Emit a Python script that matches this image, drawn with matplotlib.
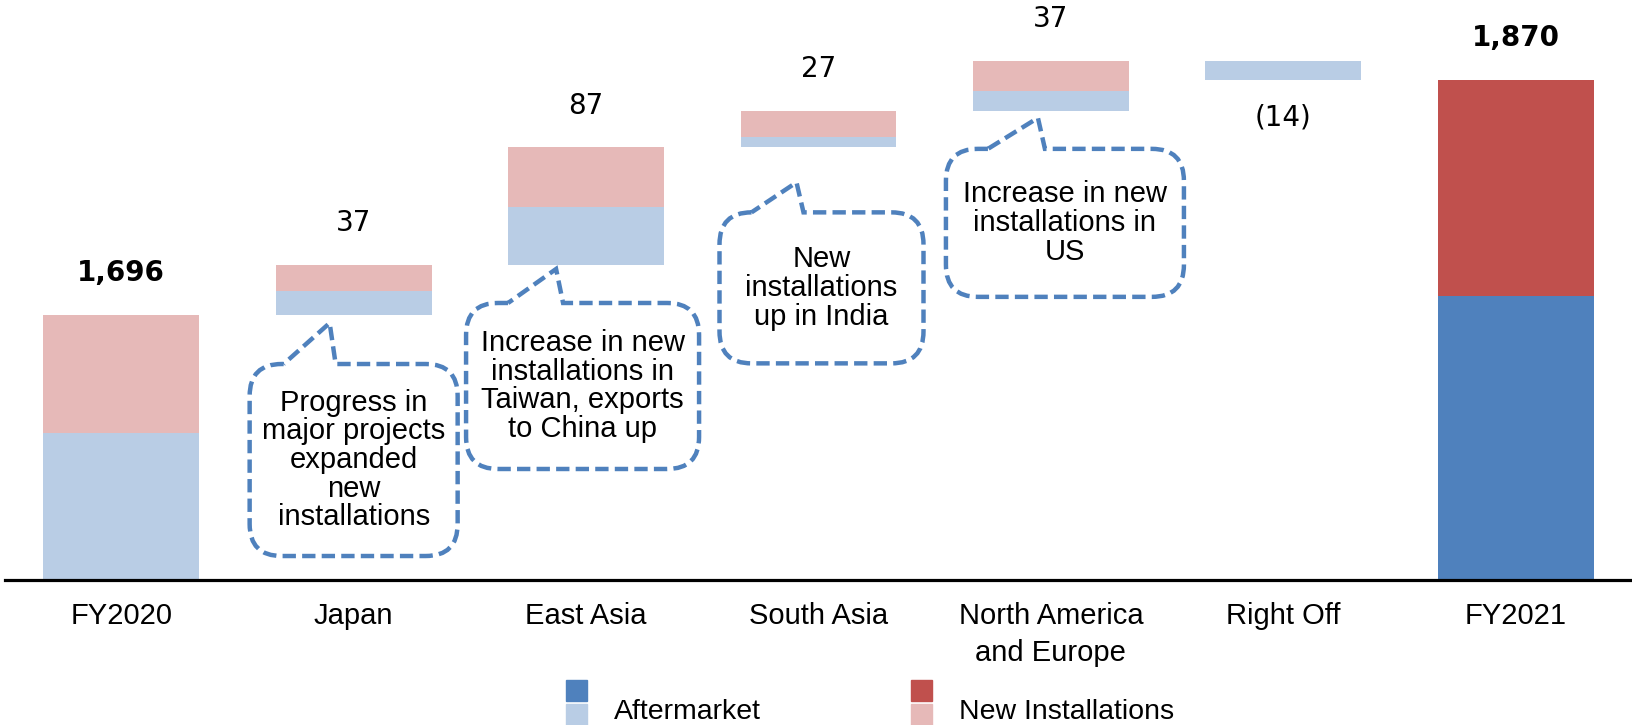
"""Sales bridge FY2020 -> FY2021 by region, drawn as a stacked waterfall."""

import matplotlib

matplotlib.use("Agg", force=True)

import matplotlib.pyplot as plt
from matplotlib.patches import PathPatch, Rectangle
from matplotlib.path import Path

W, H = 1633, 725

# ---- data -----------------------------------------------------------------
categories = ["FY2020", "Japan", "East Asia", "South Asia",
              "North America\nand Europe", "Right Off", "FY2021"]

start_total = 1696
start_aftermarket = 1609          # level where the aftermarket part ends
start_new = 87
end_total = 1870
end_aftermarket = 1710
end_new = 160

step_aftermarket = [18, 43, 8, 15, -14]
step_new = [19, 44, 19, 22, 0]
step_labels = ["37", "87", "27", "37", "(14)"]

callout_texts = [
    "Progress in\nmajor projects\nexpanded\nnew\ninstallations",
    "Increase in new\ninstallations in\nTaiwan, exports\nto China up",
    "New\ninstallations\nup in India",
    "Increase in new\ninstallations in\nUS",
]

# ---- style ----------------------------------------------------------------
LIGHT_BLUE = "#B9CDE5"
LIGHT_RED = "#E6B9B8"
DARK_BLUE = "#4F81BD"
DARK_RED = "#C0504D"
ARIAL = "Liberation Sans"
VERDANA = "DejaVu Sans"

fig = plt.figure(figsize=(W / 100, H / 100), dpi=100, facecolor="white")
ax = fig.add_axes([5 / W, 145 / H, 1627 / W, 580 / H])
ax.set_xlim(-0.5, 6.5)
ax.set_ylim(1500, 1929)

bw = 0.67

# start bar
ax.bar(0, start_aftermarket, bw, color=LIGHT_BLUE)
ax.bar(0, start_new, bw, bottom=start_aftermarket, color=LIGHT_RED)
ax.annotate(f"{start_total:,}", (0, start_total), xytext=(0, 30),
            textcoords="offset points", ha="center", va="center",
            fontsize=20, fontweight="bold", family=VERDANA)

# steps
running = start_total
bottoms = []
for i, (af, nw, lab) in enumerate(zip(step_aftermarket, step_new, step_labels)):
    x = i + 1
    delta = af + nw
    if delta >= 0:
        ax.bar(x, af, bw, bottom=running, color=LIGHT_BLUE)
        ax.bar(x, nw, bw, bottom=running + af, color=LIGHT_RED)
        bottoms.append(running)
        ax.annotate(lab, (x, running + delta), xytext=(0, 30),
                    textcoords="offset points", ha="center", va="center",
                    fontsize=20, family=VERDANA)
    else:
        ax.bar(x, -delta, bw, bottom=running + delta, color=LIGHT_BLUE)
        bottoms.append(running + delta)
        ax.annotate(lab, (x, running + delta), xytext=(0, -27),
                    textcoords="offset points", ha="center", va="center",
                    fontsize=20, family=VERDANA)
    running += delta

# end bar
ax.bar(6, end_aftermarket, bw, color=DARK_BLUE)
ax.bar(6, end_new, bw, bottom=end_aftermarket, color=DARK_RED)
ax.annotate(f"{end_total:,}", (6, end_total), xytext=(0, 30),
            textcoords="offset points", ha="center", va="center",
            fontsize=20, fontweight="bold", family=VERDANA)

for s in ("left", "right", "top"):
    ax.spines[s].set_visible(False)
ax.spines["bottom"].set_linewidth(2.3)
ax.spines["bottom"].set_color("black")
ax.set_yticks([])
ax.set_xticks(range(len(categories)), categories, fontsize=21, family=ARIAL)
ax.tick_params(axis="x", length=0, pad=16)
for t in ax.get_xticklabels():
    t.set_linespacing(1.4)


# ---- callouts (pixel offsets from the bar they point at) -------------------
def callout(i, y_bottom, text, tip_dx, tip_gap, box_l, box_r, box_gap,
            box_h, base_l, base_r, r=32):
    cx, cy = ax.transData.transform((i, y_bottom))
    tip = (cx + tip_dx, cy - tip_gap)
    top = tip[1] - box_gap
    bot = top - box_h
    L, R = cx + box_l, cx + box_r
    verts = [
        (cx + base_l, top), (L + r, top),
        (L, top), (L, top - r),
        (L, bot + r),
        (L, bot), (L + r, bot),
        (R - r, bot),
        (R, bot), (R, bot + r),
        (R, top - r),
        (R, top), (R - r, top),
        (cx + base_r, top),
        tip,
        (0, 0),
    ]
    codes = [Path.MOVETO, Path.LINETO,
             Path.CURVE3, Path.CURVE3,
             Path.LINETO,
             Path.CURVE3, Path.CURVE3,
             Path.LINETO,
             Path.CURVE3, Path.CURVE3,
             Path.LINETO,
             Path.CURVE3, Path.CURVE3,
             Path.LINETO, Path.LINETO, Path.CLOSEPOLY]
    patch = PathPatch(Path(verts, codes), facecolor="white",
                      edgecolor=DARK_BLUE, lw=3.2, ls=(0, (3, 1.4)),
                      transform=None, clip_on=False, zorder=3)
    ax.add_patch(patch)
    ax.text((L + R) / 2, (top + bot) / 2, text, transform=None,
            ha="center", va="center", multialignment="center",
            fontsize=21, family=ARIAL, linespacing=1.03, zorder=4)


callout(1, bottoms[0], callout_texts[0], -24, 8, -104, 104, 41, 192, -70, -18)
callout(2, bottoms[1], callout_texts[1], -30, 4, -120, 113, 34, 166, -78, -23)
callout(3, bottoms[2], callout_texts[2], -22, 35, -99, 105, 30, 151, -67, -15)
callout(4, bottoms[3], callout_texts[3], -13, 7, -105, 133, 31, 148, -63, -6)

# ---- legend (two shades per series) ---------------------------------------
for x0, dark, light, label in ((566, DARK_BLUE, LIGHT_BLUE, "Aftermarket"),
                               (911, DARK_RED, LIGHT_RED, "New Installations")):
    fig.add_artist(Rectangle((x0, 24), 21, 21, color=dark, transform=None))
    fig.add_artist(Rectangle((x0, 0), 21, 21, color=light, transform=None))
    fig.text(x0 + 48, 6, label, transform=None, ha="left", va="baseline",
             fontsize=20.5, family=ARIAL)

fig.savefig("out.png", dpi=100, facecolor="white")
